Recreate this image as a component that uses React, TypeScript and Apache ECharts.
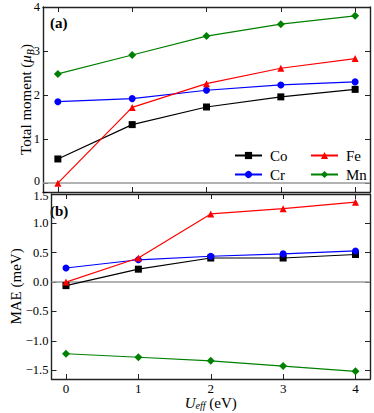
import React, { useEffect, useRef } from "react";
import * as echarts from "echarts";

const uValues = [0, 1, 2, 3, 4];
const seriesNames = ["Co", "Cr", "Fe", "Mn"];
const seriesColors = ["#000000", "#0000ff", "#ff0000", "#008000"];
const seriesSymbols = ["rect", "circle", "triangle", "diamond"];
const seriesSymbolSizes = [7, 7, 7, 8];

// Panel (a): total moment (μB)
const momentCo = [0.55, 1.33, 1.73, 1.96, 2.13];
const momentCr = [1.85, 1.92, 2.11, 2.23, 2.3];
const momentFe = [0.0, 1.72, 2.26, 2.61, 2.83];
const momentMn = [2.48, 2.91, 3.34, 3.61, 3.8];

// Panel (b): MAE (meV)
const maeCo = [-0.06, 0.22, 0.41, 0.41, 0.47];
const maeCr = [0.24, 0.38, 0.44, 0.48, 0.53];
const maeFe = [0.0, 0.41, 1.16, 1.25, 1.36];
const maeMn = [-1.22, -1.28, -1.34, -1.43, -1.52];

const xTicks = [0, 1, 2, 3, 4];
const momentTicks = [0, 1, 2, 3, 4];
const maeTicks = [-1.5, -1.0, -0.5, 0.0, 0.5, 1.0, 1.5];

const FONT = "'Liberation Serif', 'Times New Roman', serif";
const AXIS_COLOR = "#222222";

export default function App() {
  const ref = useRef<HTMLDivElement>(null);

  useEffect(() => {
    if (!ref.current) return;
    const chart = echarts.init(ref.current, null, { renderer: "svg" });

    const momentData = [momentCo, momentCr, momentFe, momentMn];
    const maeData = [maeCo, maeCr, maeFe, maeMn];

    const axisLine = { show: true, onZero: false, lineStyle: { color: AXIS_COLOR, width: 1.4 } };
    const tickStyle = (vals: number[]) => ({
      show: true,
      inside: true,
      length: 5,
      customValues: vals,
      lineStyle: { color: AXIS_COLOR, width: 1 },
    });
    const labelStyle = {
      fontFamily: FONT,
      fontSize: 13,
      color: "#000",
    };
    const edgeRich = {
      up: { fontFamily: FONT, fontSize: 12, color: "#000", padding: [0, 0, 4, 0] },
      down: { fontFamily: FONT, fontSize: 12, color: "#000", padding: [4, 0, 0, 0] },
    };

    const xAxisBase = (gridIndex: number, position: string, showLabel: boolean, extra: any = {}) => ({
      type: "value",
      gridIndex,
      position,
      min: -0.2,
      max: 4.2,
      axisLine,
      axisTick: tickStyle(xTicks),
      axisLabel: {
        show: showLabel,
        customValues: xTicks,
        margin: 3,
        ...labelStyle,
      },
      splitLine: { show: false },
      ...extra,
    });

    const yAxisBase = (
      gridIndex: number,
      position: string,
      showLabel: boolean,
      min: number,
      max: number,
      ticks: number[],
      fmt: (v: number) => string,
      extra: any = {}
    ) => ({
      type: "value",
      gridIndex,
      position,
      min,
      max,
      axisLine,
      axisTick: tickStyle(ticks),
      axisLabel: {
        show: showLabel,
        customValues: ticks,
        margin: 3,
        formatter: fmt,
        rich: edgeRich,
        ...labelStyle,
        fontSize: 12.5,
      },
      splitLine: { show: false },
      ...extra,
    });

    const makeRich = (lh: number) => ({
      n: { fontFamily: FONT, fontSize: 15, color: "#000", lineHeight: lh },
      i: { fontFamily: FONT, fontSize: 15, fontStyle: "italic", color: "#000", lineHeight: lh },
      sub: {
        fontFamily: FONT,
        fontSize: 10,
        fontStyle: "italic",
        color: "#000",
        lineHeight: 10,
        verticalAlign: "bottom",
      },
    });

    const zeroLine = {
      silent: true,
      symbol: ["none", "none"],
      label: { show: false },
      lineStyle: { color: "#999999", width: 1.5, type: "solid" },
      data: [{ yAxis: 0 }],
      z: 1,
    };

    const series: any[] = [];
    seriesNames.forEach((name, k) => {
      series.push({
        name,
        type: "line",
        xAxisIndex: 0,
        yAxisIndex: 0,
        data: uValues.map((u, j) => [u, momentData[k][j]]),
        symbol: seriesSymbols[k],
        symbolSize: seriesSymbolSizes[k],
        lineStyle: { color: seriesColors[k], width: 1.2 },
        itemStyle: { color: seriesColors[k] },
        z: 3 + k,
        ...(k === 0 ? { markLine: zeroLine } : {}),
      });
    });
    seriesNames.forEach((name, k) => {
      series.push({
        name,
        type: "line",
        xAxisIndex: 2,
        yAxisIndex: 2,
        data: uValues.map((u, j) => [u, maeData[k][j]]),
        symbol: seriesSymbols[k],
        symbolSize: seriesSymbolSizes[k],
        lineStyle: { color: seriesColors[k], width: 1.2 },
        itemStyle: { color: seriesColors[k] },
        z: 3 + k,
        ...(k === 0 ? { markLine: zeroLine } : {}),
      });
    });

    const legendBase = {
      orient: "vertical",
      top: 143,
      itemWidth: 27,
      itemHeight: 9,
      itemGap: 4,
      selectedMode: false,
      textStyle: { fontFamily: FONT, fontSize: 15, color: "#000", lineHeight: 14, padding: [0, 0, 0, 3] },
    };

    const momentFmt = (v: number) => (v === 0 ? "{up|0}" : String(v));
    const maeFmt = (v: number) => {
      const s = v.toFixed(1).replace("-", "\u2212");
      return v === 1.5 ? "{down|" + s + "}" : s;
    };

    chart.setOption({
      animation: false,
      textStyle: { fontFamily: FONT },
      grid: [
        { left: 43, top: 7, width: 327, height: 185, show: false },
        { left: 43, top: 194, width: 327, height: 185, show: false },
      ],
      legend: [
        { ...legendBase, left: 229, data: ["Co", "Cr"] },
        { ...legendBase, left: 305, data: ["Fe", "Mn"] },
      ],
      xAxis: [
        xAxisBase(0, "bottom", false),
        xAxisBase(0, "top", false),
        xAxisBase(1, "bottom", true, {
          name: "{i|U}{sub|eff}{n| (eV)}",
          nameLocation: "middle",
          nameGap: 16,
          nameMoveOverlap: false,
          nameTextStyle: { rich: makeRich(15), verticalAlign: "top" },
        }),
        xAxisBase(1, "top", false),
      ],
      yAxis: [
        yAxisBase(0, "left", true, -0.2, 4, momentTicks, momentFmt, {
          name: "{n|Total moment (}{i|μ}{sub|B}{n|)}",
          nameLocation: "middle",
          nameGap: 8,
          nameMoveOverlap: false,
          nameTextStyle: { rich: makeRich(18) },
        }),
        yAxisBase(0, "right", false, -0.2, 4, momentTicks, (v) => String(v)),
        yAxisBase(1, "left", true, -1.65, 1.5, maeTicks, maeFmt, {
          name: "{n|MAE (meV)}",
          nameLocation: "middle",
          nameGap: 27,
          nameMoveOverlap: false,
          nameTextStyle: { rich: makeRich(18) },
        }),
        yAxisBase(1, "right", false, -1.65, 1.5, maeTicks, (v) => v.toFixed(1)),
      ],
      graphic: [
        {
          type: "text",
          left: 50,
          top: 15,
          style: { text: "(a)", fontFamily: FONT, fontSize: 15, fontWeight: "bold", fill: "#000" },
        },
        {
          type: "text",
          left: 50,
          top: 203,
          style: { text: "(b)", fontFamily: FONT, fontSize: 15, fontWeight: "bold", fill: "#000" },
        },
      ],
      series,
    });

    return () => chart.dispose();
  }, []);

  return (
    <div
      ref={ref}
      style={{ position: "fixed", left: 0, top: 0, width: 374, height: 413, background: "#fff" }}
    />
  );
}
